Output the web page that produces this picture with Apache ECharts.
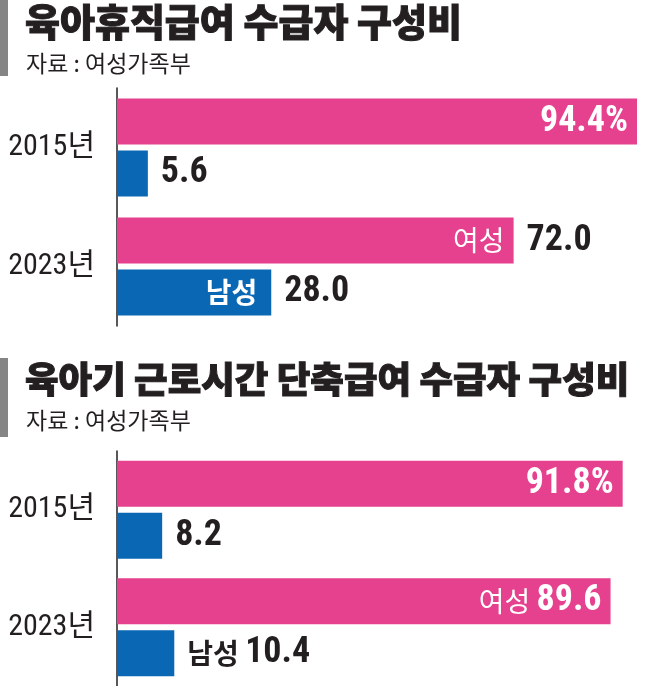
<!DOCTYPE html>
<html>
<head>
<meta charset="utf-8">
<script src="https://cdn.jsdelivr.net/npm/echarts@6/dist/echarts.min.js"></script>
<style>
  html, body { margin: 0; padding: 0; background: #fff; }
  #chart { width: 647px; height: 686px; }
</style>
</head>
<body>
<div id="chart"></div>
<script>
// 육아휴직급여 / 육아기 근로시간 단축급여 수급자 구성비 (%)
const years = ['2015년', '2023년'];
const leaveFemale = [94.4, 72.0];
const leaveMale = [5.6, 28.0];
const reducedFemale = [91.8, 89.6];
const reducedMale = [8.2, 10.4];

const PINK = '#e5418e';
const BLUE = '#0a67b4';
const KR = "'Noto Sans CJK KR', sans-serif";
const NUM = "'Roboto Condensed', 'Noto Sans CJK KR', sans-serif";

const rich = {
  n: { fontFamily: NUM, fontWeight: 'bold', fontSize: 36, color: '#fff' },
  k: { fontFamily: KR, fontWeight: 'normal', fontSize: 28, color: '#fff' },
  kb: { fontFamily: KR, fontWeight: 'bold', fontSize: 28, color: '#fff' },
  d: { fontFamily: NUM, fontWeight: 'bold', fontSize: 36, color: '#231f20' },
  dk: { fontFamily: KR, fontWeight: 'bold', fontSize: 28, color: '#231f20' }
};

// label text per bar: inside (white) and outside (black), null = none
function chartSeries(idx, female, male, femIn, femOut, maleIn, maleOut) {
  const lbl = (pos, texts, dist) => ({
    show: true, position: pos, distance: dist, rich: rich,
    formatter: p => texts[p.dataIndex] || ''
  });
  return [
    {
      type: 'bar', name: '여성', xAxisIndex: idx, yAxisIndex: idx, stack: 'f' + idx,
      data: female, barWidth: 46, barGap: '13%', itemStyle: { color: PINK },
      label: lbl('insideRight', femIn, 9), silent: true
    },
    {
      type: 'bar', xAxisIndex: idx, yAxisIndex: idx, stack: 'f' + idx,
      data: female.map(() => 0), barWidth: 46, itemStyle: { color: PINK },
      label: lbl('right', femOut, 13), silent: true
    },
    {
      type: 'bar', name: '남성', xAxisIndex: idx, yAxisIndex: idx, stack: 'm' + idx,
      data: male, barWidth: 46, barGap: '13%', itemStyle: { color: BLUE },
      label: lbl('insideRight', maleIn, 14), silent: true
    },
    {
      type: 'bar', xAxisIndex: idx, yAxisIndex: idx, stack: 'm' + idx,
      data: male.map(() => 0), barWidth: 46, itemStyle: { color: BLUE },
      label: lbl('right', maleOut, 13), silent: true
    }
  ];
}

const f1 = v => v.toFixed(1);

const series = [].concat(
  chartSeries(0, leaveFemale, leaveMale,
    ['{n|' + f1(leaveFemale[0]) + '%}', '{k|여성}'],
    [null, '{d|' + f1(leaveFemale[1]) + '}'],
    [null, '{kb|남성}'],
    ['{d|' + f1(leaveMale[0]) + '}', '{d|' + f1(leaveMale[1]) + '}']),
  chartSeries(1, reducedFemale, reducedMale,
    ['{n|' + f1(reducedFemale[0]) + '%}', '{k|여성 }{n|' + f1(reducedFemale[1]) + '}'],
    [null, null],
    [null, null],
    ['{d|' + f1(reducedMale[0]) + '}', '{dk|남성 }{d|' + f1(reducedMale[1]) + '}'])
);

const xAxisBase = { type: 'value', min: 0, max: 94.4, show: false };
const yAxisBase = {
  type: 'category', data: years, inverse: true,
  axisLine: { show: true, lineStyle: { color: '#231f20', width: 1.5 } },
  axisTick: { show: false },
  axisLabel: { margin: 22, color: '#231f20', fontFamily: NUM, fontSize: 30 }
};

const titleStyle = {
  fontFamily: KR, fontWeight: 900, fontSize: 38, color: '#231f20',
  textBorderColor: '#231f20', textBorderWidth: 1
};
const subStyle = { fontFamily: KR, fontWeight: 'normal', fontSize: 23, color: '#231f20' };

const chart = echarts.init(document.getElementById('chart'), null, { renderer: 'canvas' });
chart.setOption({
  animation: false,
  backgroundColor: '#fff',
  title: [
    { text: '육아휴직급여 수급자 구성비', left: 20, top: -2, textStyle: titleStyle },
    { text: '자료 : 여성가족부', left: 21, top: 47, textStyle: subStyle },
    { text: '육아기 근로시간 단축급여 수급자 구성비', left: 20, top: 356,
      textStyle: Object.assign({}, titleStyle, { fontSize: 36.5 }) },
    { text: '자료 : 여성가족부', left: 21, top: 404, textStyle: subStyle }
  ],
  graphic: [
    { type: 'rect', shape: { x: 0, y: 0, width: 8, height: 76 }, style: { fill: '#858585' } },
    { type: 'rect', shape: { x: 0, y: 358, width: 8, height: 79 }, style: { fill: '#858585' } }
  ],
  grid: [
    { left: 117, right: 10, top: 88, height: 238 },
    { left: 117, right: 10, top: 451, height: 239 }
  ],
  xAxis: [Object.assign({ gridIndex: 0 }, xAxisBase), Object.assign({ gridIndex: 1 }, xAxisBase)],
  yAxis: [Object.assign({ gridIndex: 0 }, yAxisBase), Object.assign({ gridIndex: 1 }, yAxisBase)],
  series: series
});
</script>
</body>
</html>
